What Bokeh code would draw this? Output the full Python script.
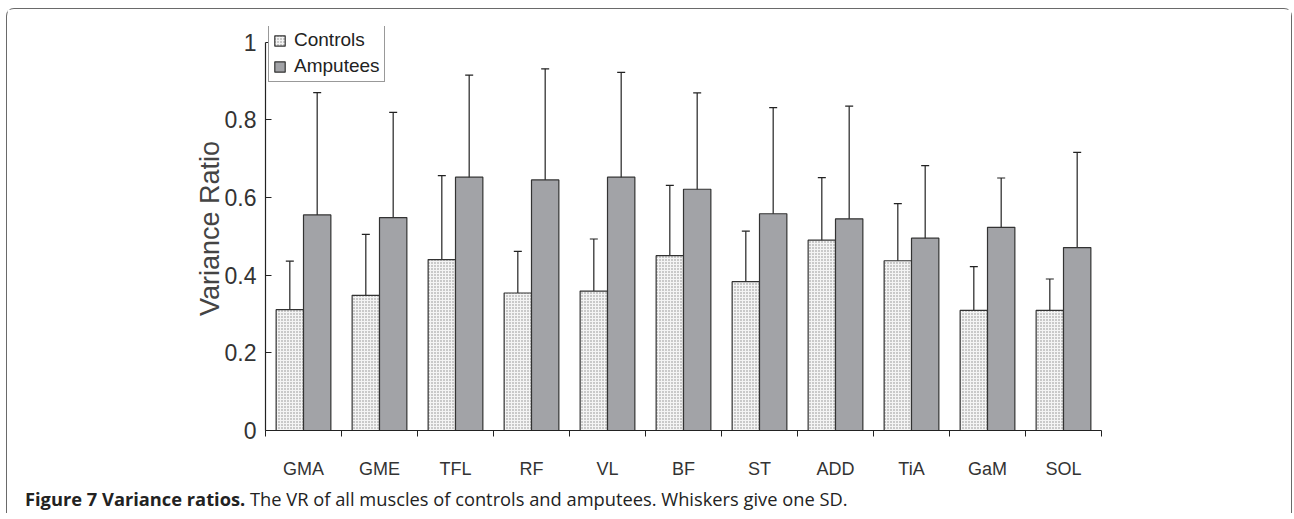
from bokeh.plotting import figure
from bokeh.models import (ColumnDataSource, Range1d, FixedTicker, Whisker, TeeHead,
                          Legend, LegendItem, Div)
from bokeh.layouts import column
from bokeh.embed import file_html
from bokeh.resources import INLINE

muscles = ["GMA", "GME", "TFL", "RF", "VL", "BF", "ST", "ADD", "TiA", "GaM", "SOL"]
controls_mean = [0.311, 0.348, 0.440, 0.354, 0.359, 0.450, 0.383, 0.490, 0.437, 0.309, 0.309]
controls_sd = [0.125, 0.157, 0.216, 0.107, 0.134, 0.181, 0.130, 0.161, 0.147, 0.113, 0.081]
amputees_mean = [0.555, 0.548, 0.652, 0.645, 0.652, 0.621, 0.558, 0.545, 0.495, 0.523, 0.471]
amputees_sd = [0.315, 0.271, 0.263, 0.286, 0.270, 0.248, 0.273, 0.290, 0.187, 0.127, 0.245]
y_ticks = [0, 0.2, 0.4, 0.6, 0.8, 1.0]
y_tick_labels = ["0", "0.2", "0.4", "0.6", "0.8", "1"]
series_names = ["Controls", "Amputees"]
caption_bold = "Figure 7 Variance ratios."
caption_text = "The VR of all muscles of controls and amputees. Whiskers give one SD."

FONT = "Liberation Sans"
TXT = "#333333"

pos = [i + 1 for i in range(len(muscles))]
off = 0.18
bw = 0.36

src_c = ColumnDataSource(dict(
    x=[p_ - off for p_ in pos], top=controls_mean,
    upper=[m + s for m, s in zip(controls_mean, controls_sd)],
    lower=[m - s for m, s in zip(controls_mean, controls_sd)]))
src_a = ColumnDataSource(dict(
    x=[p_ + off for p_ in pos], top=amputees_mean,
    upper=[m + s for m, s in zip(amputees_mean, amputees_sd)],
    lower=[m - s for m, s in zip(amputees_mean, amputees_sd)]))

p = figure(width=1284, height=472, output_backend="svg", toolbar_location=None,
           x_range=Range1d(0.5, len(muscles) + 0.5), y_range=Range1d(0, 1.04),
           min_border_left=258, min_border_right=190, min_border_top=17,
           min_border_bottom=51)
p.outline_line_color = None
p.xgrid.visible = False
p.ygrid.visible = False
p.background_fill_color = "white"
p.border_fill_color = "white"

rc = p.vbar(x="x", top="top", width=bw, bottom=0, source=src_c,
            fill_color="#f4f4f4", line_color="#333333", line_width=1.2,
            hatch_pattern="dot", hatch_color="#888888", hatch_scale=3, hatch_weight=1)
ra = p.vbar(x="x", top="top", width=bw, bottom=0, source=src_a,
            fill_color="#a2a3a7", line_color="#333333", line_width=1.2)

for src in (src_c, src_a):
    w = Whisker(source=src, base="x", upper="upper", lower="lower",
                line_color="#222222", line_width=1.2,
                upper_head=TeeHead(size=8, line_color="#222222", line_width=1.2),
                lower_head=TeeHead(size=8, line_color="#222222", line_width=1.2))
    p.add_layout(w)

# x axis
xa = p.xaxis[0]
xa.ticker = FixedTicker(ticks=pos, minor_ticks=[i + 0.5 for i in range(len(muscles) + 1)])
xa.major_label_overrides = {k: v for k, v in zip(pos, muscles)}
xa.major_tick_in = 0
xa.major_tick_out = 0
xa.minor_tick_in = 0
xa.minor_tick_out = 6
xa.minor_tick_line_color = "#222222"
xa.axis_line_color = "#222222"
xa.axis_line_width = 1.2
xa.major_label_standoff = 22
xa.major_label_text_font = FONT
xa.major_label_text_font_size = "18px"
xa.major_label_text_color = TXT

# y axis
ya = p.yaxis[0]
ya.ticker = FixedTicker(ticks=y_ticks, minor_ticks=[])
ya.bounds = (0, 1.0)
ya.major_label_overrides = {k: v for k, v in zip(y_ticks, y_tick_labels)}
ya.major_tick_in = 6
ya.major_tick_out = 0
ya.major_tick_line_color = "#222222"
ya.axis_line_color = "#222222"
ya.axis_line_width = 1.2
ya.major_label_standoff = 9
ya.major_label_text_font = FONT
ya.major_label_text_font_size = "23px"
ya.major_label_text_color = TXT
ya.axis_label = "Variance Ratio"
ya.axis_label_text_font = FONT
ya.axis_label_text_font_size = "27px"
ya.axis_label_text_font_style = "normal"
ya.axis_label_text_color = "#444444"
ya.axis_label_standoff = -3

legend = Legend(items=[LegendItem(label=series_names[0], renderers=[rc]),
                       LegendItem(label=series_names[1], renderers=[ra])],
                location=(3, 348), orientation="vertical")
legend.label_text_font = FONT
legend.label_text_font_size = "19px"
legend.label_text_color = "#222222"
legend.glyph_width = 13
legend.glyph_height = 13
legend.label_standoff = 8
legend.label_height = 20
legend.spacing = 4
legend.padding = 4
legend.margin = 0
legend.border_line_color = "#333333"
legend.border_line_width = 1
legend.background_fill_color = "white"
legend.background_fill_alpha = 1
p.add_layout(legend)

cap = Div(text="<b>" + caption_bold + "</b> " + caption_text, width=1200, height=24,
          margin=(8, 0, 0, 18),
          styles={"font-family": "'Open Sans', sans-serif", "font-size": "18.3px",
                  "color": "#222222", "line-height": "20px", "white-space": "nowrap"})

layout = column(p, cap, spacing=0, margin=(8, 0, 0, 6),
                styles={"border-top": "1.5px solid #6a6a6a", "border-left": "1.5px solid #6a6a6a",
                        "border-right": "1.5px solid #6a6a6a",
                        "border-top-left-radius": "8px", "border-top-right-radius": "8px"})

open("out.html", "w").write(file_html(layout, INLINE))
